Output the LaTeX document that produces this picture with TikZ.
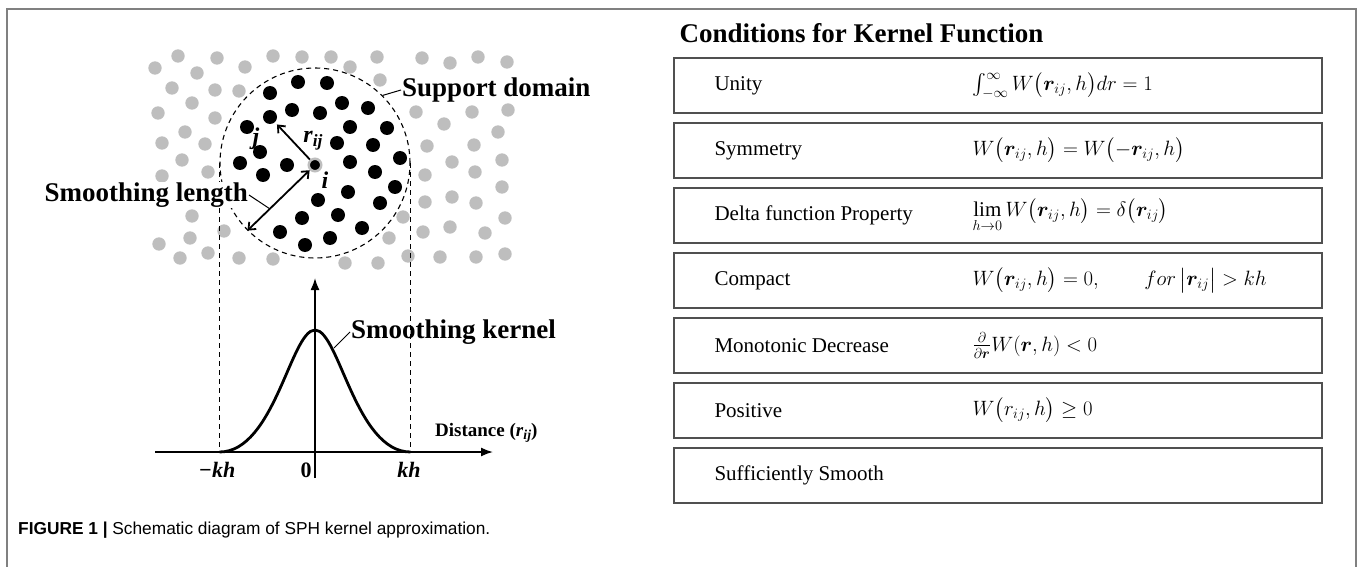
\documentclass[tikz,border=0pt]{standalone}
\usepackage{amsmath,bm}
\usepackage{graphicx}
\usepackage{fontspec}
\setmainfont{Liberation Serif}
\setsansfont{Liberation Sans}
\usetikzlibrary{positioning,arrows.meta}
\definecolor{grao}{HTML}{BEBEBE}
\definecolor{moldura}{HTML}{808080}
\definecolor{borda}{HTML}{505050}
\newcommand{\rij}{\textit{r}\raisebox{-0.35ex}{\scalebox{0.72}{\textit{ij}}}}

\begin{document}
\begin{tikzpicture}[x=1pt, y=-1pt,
  font=\fontsize{21}{25}\selectfont,
  rotulo/.style={font=\fontsize{27}{32}\selectfont\bfseries, inner sep=1pt},
  letra/.style={font=\fontsize{24}{28}\selectfont\bfseries\itshape, inner sep=0},
  pontinho/.style={circle, fill=black, minimum size=14, inner sep=0},
  tracejado/.style={dash pattern=on 5pt off 4pt, line width=1.1pt},
  eixo/.style={-{Latex[length=12pt,width=9pt]}, line width=1.6pt},
  seta/.style={-{Straight Barb[length=6pt,width=10pt]}, line width=1.8pt},
  dupla/.style={{Straight Barb[length=6pt,width=10pt]}-{Straight Barb[length=6pt,width=10pt]}, line width=1.8pt},
  guia/.style={line width=1pt},
  caixa/.style={draw=borda, line width=1.3pt, minimum width=648, minimum height=55, inner sep=0}]
\useasboundingbox (0,0) rectangle (1357,567);
% ---- moldura
\draw[moldura, line width=1.8pt] (7,567) -- (7,9) -- (1356,9) -- (1356,567);
% ---- particulas
\foreach \px/\py in {155/68, 178/56, 197/73, 217/58, 245/67, 273/56, 302/57, 331/57, 350/67, 377/57,
  422/58, 450/63, 478/57, 507/62, 172/88, 192/103, 215/90, 239/91, 380/80, 158/113, 215/118,
  185/132, 162/143, 205/144, 182/160, 208/172, 162/176, 416/112, 444/124, 472/112, 508/110,
  498/132, 427/146, 474/145, 452/162, 502/160, 425/175, 475/172, 425/202, 452/197, 476/203,
  502/187, 403/217, 505/218, 423/232, 450/227, 485/233, 389/238, 408/256, 440/257, 476/257,
  505/254, 345/263, 378/263, 192/216, 224/231, 159/244, 190/238, 180/258, 208/253, 239/258, 273/259}
  \fill[grao] (\px,\py) circle[radius=6.7];
\foreach \px/\py in {270/93, 298/82, 327/83, 292/110, 320/113, 342/103, 368/108, 350/127, 387/128,
  247/127, 260/152, 337/143, 373/145, 240/163, 287/165, 263/175, 350/162, 375/172, 400/158,
  318/200, 348/192, 395/187, 380/203, 302/218, 338/215, 280/232, 305/245, 330/238, 362/228}
  \fill (\px,\py) circle[radius=7];
\node[pontinho] (pj) at (270,117) {};
\node[circle, fill=black, draw=grao, line width=2.5pt, minimum size=12.5, inner sep=0] (pi) at (315,165) {};
% ---- dominio de suporte
\node[draw, circle, tracejado, minimum size=190, inner sep=0] (dom) at (315,163) {};
\coordinate (xo) at (155,452);
\coordinate (xe) at (493,452);
\coordinate (yo) at (315,478);
\coordinate (ye) at (315,278);
\draw[tracejado] (dom.west) -- (dom.west |- xo);
\draw[tracejado] (dom.east) -- (dom.east |- xo);
% ---- rotulos
\node[rotulo, anchor=east, fill=white] (lenlbl) at (249,195) {Smoothing length};
\node[rotulo, anchor=west, fill=white] (domlbl) at (401,90) {Support domain};
\node[letra] (lj) at (256,139) {j};
\node[letra] (li) at (325,180) {i};
\node[font=\fontsize{24}{28}\selectfont\bfseries, inner sep=0] (lr) at (313,141) {\rij};
\draw[seta, shorten >=3pt] (pi) -- (pj);
\draw[dupla] (pi) -- coordinate[pos=0.64] (meio) (dom.225);
\draw[guia] (lenlbl.east) -- (meio);
\draw[guia] (domlbl.west) -- (dom.45);
% ---- nucleo de suavizacao
\draw[eixo] (xo) -- (xe);
\draw[eixo] (yo) -- (ye);
\coordinate (pico) at (315,330);
\draw[line width=2.8pt] (dom.west |- xo) .. controls +(55,0) and +(-24,0) .. (pico)
  .. controls +(24,0) and +(-55,0) .. (dom.east |- xo);
\coordinate (kpt) at (334,348);
\node[rotulo, anchor=west] (kerlbl) at (350,332) {Smoothing kernel};
\draw[guia] (kerlbl.west) -- (kpt);
\node[anchor=west, inner sep=0, font=\fontsize{19}{23}\selectfont\bfseries] (dist) at (435,433) {Distance (\rij)};
\node[font=\fontsize{22}{26}\selectfont\bfseries\itshape, inner sep=0] (mkh) at (217,470) {−kh};
\node[font=\fontsize{22}{26}\selectfont\bfseries, inner sep=0] (zero) at (306,470) {0};
\node[font=\fontsize{22}{26}\selectfont\bfseries\itshape, inner sep=0] (kh) at (409,470) {kh};
% ---- tabela de condicoes
\foreach \cnd/\frm [count=\lin] in {
  {Unity}/{$\int_{-\infty}^{\infty}W\bigl(\bm{r}_{ij},h\bigr)dr=1$},
  {Symmetry}/{$W\bigl(\bm{r}_{ij},h\bigr)=W\bigl(-\bm{r}_{ij},h\bigr)$},
  {Delta function Property}/{$\lim\limits_{h\to 0}W\bigl(\bm{r}_{ij},h\bigr)=\delta\bigl(\bm{r}_{ij}\bigr)$},
  {Compact}/{$W\bigl(\bm{r}_{ij},h\bigr)=0,\qquad for\,\bigl|\bm{r}_{ij}\bigr|>kh$},
  {Monotonic Decrease}/{$\frac{\partial}{\partial\bm{r}}W(\bm{r},h)<0$},
  {Positive}/{$W\bigl(r_{ij},h\bigr)\geq 0$},
  {Sufficiently Smooth}/{}} {
  \node[caixa] (c\lin) at (998,{85.5+65*(\lin-1)}) {};
  \node[anchor=west, inner sep=0] (r\lin) at ([xshift=41]c\lin.west) {\cnd};
  \node[anchor=west, inner sep=0] (f\lin) at ([xshift=299]c\lin.west) {\frm};
}
\node[anchor=base west, inner sep=0, font=\fontsize{27}{32}\selectfont\bfseries] (titulo)
  at ([xshift=6, yshift=15]c1.north west) {Conditions for Kernel Function};
% ---- legenda
\node[anchor=west, inner sep=0, font=\sffamily\fontsize{17.3}{20}\selectfont] (legenda) at (18,530)
  {\textbf{FIGURE 1 |} Schematic diagram of SPH kernel approximation.};
\end{tikzpicture}
\end{document}
